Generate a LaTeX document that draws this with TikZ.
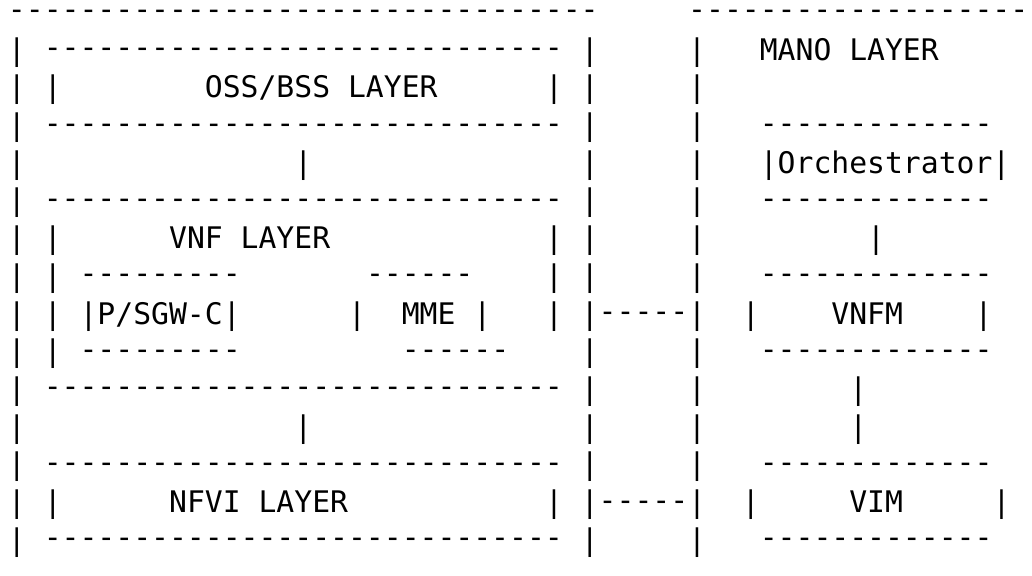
\documentclass[tikz,border=0pt]{standalone}
\usepackage{fontspec}
\newfontfamily\monofnt{DejaVu Sans Mono}
\newcount\dcnt
\newcommand\dashes[1]{\dcnt=0\relax\loop\ifnum\dcnt<#1\relax-\kern0pt\advance\dcnt by 1\relax\repeat}
\newcommand\cw{17.9}
\newcommand\xo{8}
% text fragment: column, row, text
\newcommand\frag[3]{\node[txt] (r#2c#1) at ({\xo+#1*\cw},{22.4+(#2-1)*37.7}) {#3};}
% dash run: column, row, count
\newcommand\dfrag[3]{\node[txt,dash run] (r#2c#1) at ({\xo+#1*\cw},{19.9+(#2-1)*37.7}) {\dashes{#3}};}
\begin{document}
\begin{tikzpicture}[x=1pt,y=-1pt,
  txt/.style={anchor=base west,inner sep=0pt,outer sep=0pt,text=black,font={\monofnt\fontsize{29.73}{36}\selectfont}},
  dash run/.style={text height=11pt,text depth=0pt}]
\useasboundingbox[fill=white] (0,0) rectangle (1032,575);
% row 1
\dfrag{0}{1}{33}
\dfrag{38}{1}{19}
% row 2
\frag{0}{2}{|}\dfrag{2}{2}{29}\frag{32}{2}{|}\frag{38}{2}{|}\frag{42}{2}{MANO LAYER}
% row 3
\frag{0}{3}{|}\frag{2}{3}{|}\frag{11}{3}{OSS/BSS LAYER}\frag{30}{3}{|}\frag{32}{3}{|}\frag{38}{3}{|}
% row 4
\frag{0}{4}{|}\dfrag{2}{4}{29}\frag{32}{4}{|}\frag{38}{4}{|}\dfrag{42}{4}{13}
% row 5
\frag{0}{5}{|}\frag{16}{5}{|}\frag{32}{5}{|}\frag{38}{5}{|}\frag{42}{5}{|Orchestrator|}
% row 6
\frag{0}{6}{|}\dfrag{2}{6}{29}\frag{32}{6}{|}\frag{38}{6}{|}\dfrag{42}{6}{13}
% row 7
\frag{0}{7}{|}\frag{2}{7}{|}\frag{9}{7}{VNF LAYER}\frag{30}{7}{|}\frag{32}{7}{|}\frag{38}{7}{|}\frag{48}{7}{|}
% row 8
\frag{0}{8}{|}\frag{2}{8}{|}\dfrag{4}{8}{9}\dfrag{20}{8}{6}\frag{30}{8}{|}\frag{32}{8}{|}\frag{38}{8}{|}\dfrag{42}{8}{13}
% row 9
\frag{0}{9}{|}\frag{2}{9}{|}\frag{4}{9}{|P/SGW-C|}\frag{19}{9}{|}\frag{22}{9}{MME}\frag{26}{9}{|}\frag{30}{9}{|}\frag{32}{9}{|}\dfrag{33}{9}{5}\frag{38}{9}{|}\frag{41}{9}{|}\frag{46}{9}{VNFM}\frag{54}{9}{|}
% row 10
\frag{0}{10}{|}\frag{2}{10}{|}\dfrag{4}{10}{9}\dfrag{22}{10}{6}\frag{32}{10}{|}\frag{38}{10}{|}\dfrag{42}{10}{13}
% row 11
\frag{0}{11}{|}\dfrag{2}{11}{29}\frag{32}{11}{|}\frag{38}{11}{|}\frag{47}{11}{|}
% row 12
\frag{0}{12}{|}\frag{16}{12}{|}\frag{32}{12}{|}\frag{38}{12}{|}\frag{47}{12}{|}
% row 13
\frag{0}{13}{|}\dfrag{2}{13}{29}\frag{32}{13}{|}\frag{38}{13}{|}\dfrag{42}{13}{13}
% row 14
\frag{0}{14}{|}\frag{2}{14}{|}\frag{9}{14}{NFVI LAYER}\frag{30}{14}{|}\frag{32}{14}{|}\dfrag{33}{14}{5}\frag{38}{14}{|}\frag{41}{14}{|}\frag{47}{14}{VIM}\frag{55}{14}{|}
% row 15
\frag{0}{15}{|}\dfrag{2}{15}{29}\frag{32}{15}{|}\frag{38}{15}{|}\dfrag{42}{15}{13}
\end{tikzpicture}
\end{document}
